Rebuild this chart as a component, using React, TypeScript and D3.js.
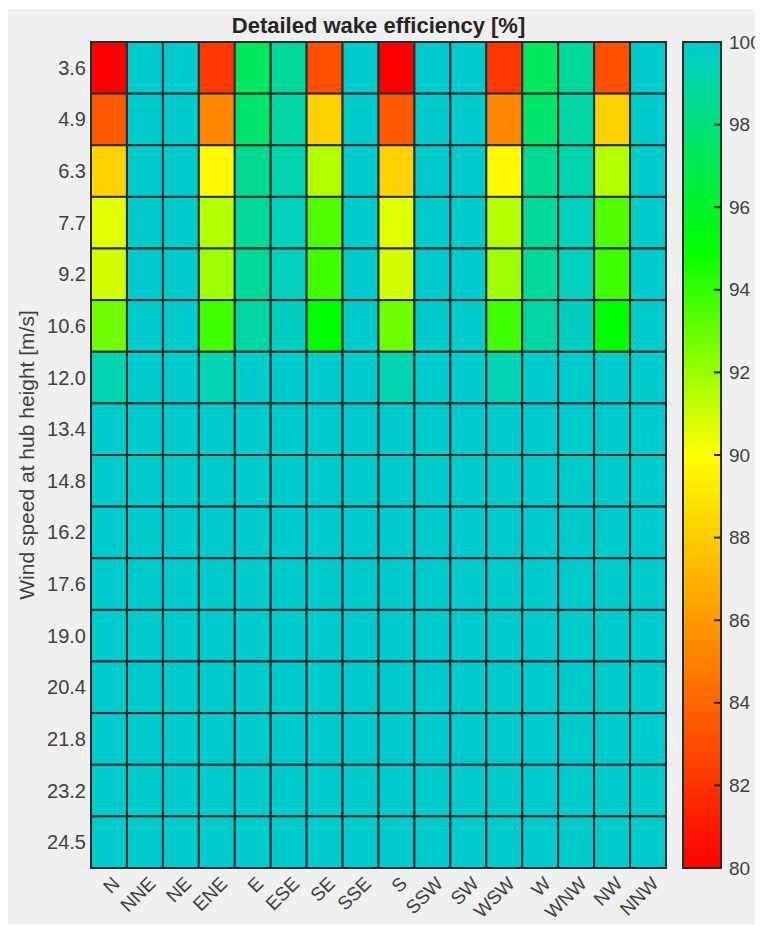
import React, { useEffect, useRef } from 'react';
import * as d3 from 'd3';

const directions = ['N', 'NNE', 'NE', 'ENE', 'E', 'ESE', 'SE', 'SSE', 'S', 'SSW', 'SW', 'WSW', 'W', 'WNW', 'NW', 'NNW'];
const speeds = ['3.6', '4.9', '6.3', '7.7', '9.2', '10.6', '12.0', '13.4', '14.8', '16.2', '17.6', '19.0', '20.4', '21.8', '23.2', '24.5'];
// wake efficiency [%], one row per wind speed, columns follow directions
const efficiency = [
  [80.0, 100, 100, 82.2, 97.3, 98.8, 83.1, 100, 80.0, 100, 100, 82.2, 97.3, 98.8, 83.1, 100],
  [83.5, 100, 100, 85.3, 97.6, 99.0, 88.2, 100, 83.5, 100, 100, 85.3, 97.6, 99.0, 88.2, 100],
  [88.2, 100, 100, 89.8, 98.5, 99.3, 91.5, 100, 88.2, 100, 100, 89.8, 98.5, 99.3, 91.5, 100],
  [90.6, 100, 100, 91.5, 98.7, 99.6, 93.4, 100, 90.6, 100, 100, 91.5, 98.7, 99.6, 93.4, 100],
  [90.9, 100, 100, 91.9, 98.7, 99.6, 93.7, 100, 90.9, 100, 100, 91.9, 98.7, 99.6, 93.7, 100],
  [92.8, 100, 100, 93.7, 99.0, 99.7, 95.0, 100, 92.8, 100, 100, 93.7, 99.0, 99.7, 95.0, 100],
  [99.3, 100, 100, 99.4, 100, 100, 100, 100, 99.3, 100, 100, 99.4, 100, 100, 100, 100],
  [100, 100, 100, 100, 100, 100, 100, 100, 100, 100, 100, 100, 100, 100, 100, 100],
  [100, 100, 100, 100, 100, 100, 100, 100, 100, 100, 100, 100, 100, 100, 100, 100],
  [100, 100, 100, 100, 100, 100, 100, 100, 100, 100, 100, 100, 100, 100, 100, 100],
  [100, 100, 100, 100, 100, 100, 100, 100, 100, 100, 100, 100, 100, 100, 100, 100],
  [100, 100, 100, 100, 100, 100, 100, 100, 100, 100, 100, 100, 100, 100, 100, 100],
  [100, 100, 100, 100, 100, 100, 100, 100, 100, 100, 100, 100, 100, 100, 100, 100],
  [100, 100, 100, 100, 100, 100, 100, 100, 100, 100, 100, 100, 100, 100, 100, 100],
  [100, 100, 100, 100, 100, 100, 100, 100, 100, 100, 100, 100, 100, 100, 100, 100],
  [100, 100, 100, 100, 100, 100, 100, 100, 100, 100, 100, 100, 100, 100, 100, 100],
];
const colorStops = [80, 90, 95, 100];
const colorValues = ['#ff0000', '#ffff00', '#00ff00', '#00cccc'];
const cbarTicks = [80, 82, 84, 86, 88, 90, 92, 94, 96, 98, 100];

const W = 755;
const H = 916;
const FONT = '"Liberation Sans", Arial, sans-serif';

export default function App() {
  const ref = useRef<SVGSVGElement>(null);

  useEffect(() => {
    const svg = d3.select(ref.current);
    svg.selectAll('*').remove();

    const plot = { left: 83, right: 658, top: 34, bottom: 860 };
    const cbar = { left: 675, right: 713 };

    const color = d3.scaleLinear<string>().domain(colorStops).range(colorValues).clamp(true);
    const x = d3.scaleBand().domain(directions).range([plot.left, plot.right]);
    const y = d3.scaleBand().domain(speeds).range([plot.top, plot.bottom]);
    const yc = d3.scaleLinear().domain([80, 100]).range([plot.bottom, plot.top]);

    // panel background
    svg.append('rect')
      .attr('x', 0).attr('y', 1)
      .attr('width', W).attr('height', H - 1)
      .attr('fill', '#f0f0f0');

    // title
    svg.append('text')
      .attr('x', (plot.left + plot.right) / 2)
      .attr('y', 25)
      .attr('text-anchor', 'middle')
      .attr('font-family', FONT)
      .attr('font-size', 22)
      .attr('font-weight', 'bold')
      .attr('fill', '#262626')
      .text('Detailed wake efficiency [%]');

    // cells
    const cells = efficiency.flatMap((row, i) => row.map((v, j) => ({ s: speeds[i], d: directions[j], v })));
    svg.append('g')
      .selectAll('rect')
      .data(cells)
      .enter()
      .append('rect')
      .attr('x', d => x(d.d)!)
      .attr('y', d => y(d.s)!)
      .attr('width', x.bandwidth())
      .attr('height', y.bandwidth())
      .attr('fill', d => color(d.v))
      .attr('stroke', '#2b2b2b')
      .attr('stroke-width', 2);

    // y tick labels
    svg.append('g')
      .selectAll('text')
      .data(speeds)
      .enter()
      .append('text')
      .attr('x', plot.left - 5)
      .attr('y', d => y(d)! + y.bandwidth() / 2)
      .attr('dy', '0.35em')
      .attr('text-anchor', 'end')
      .attr('font-family', FONT)
      .attr('font-size', 20)
      .attr('fill', '#404040')
      .text(d => d);

    // y axis title
    svg.append('text')
      .attr('transform', `translate(19,${(plot.top + plot.bottom) / 2}) rotate(-90)`)
      .attr('dy', '0.35em')
      .attr('text-anchor', 'middle')
      .attr('font-family', FONT)
      .attr('font-size', 21)
      .attr('fill', '#404040')
      .text('Wind speed at hub height [m/s]');

    // x tick labels, rotated
    svg.append('g')
      .selectAll('text')
      .data(directions)
      .enter()
      .append('text')
      .attr('transform', d => `translate(${x(d)! + x.bandwidth() / 2 + 7},${plot.bottom + 12}) rotate(-45)`)
      .attr('dy', '0.35em')
      .attr('text-anchor', 'end')
      .attr('font-family', FONT)
      .attr('font-size', 19)
      .attr('fill', '#404040')
      .text(d => d);

    // colorbar gradient
    const grad = svg.append('defs')
      .append('linearGradient')
      .attr('id', 'cbar-grad')
      .attr('x1', '0%').attr('y1', '100%')
      .attr('x2', '0%').attr('y2', '0%');
    colorStops.forEach((s, i) => {
      grad.append('stop')
        .attr('offset', `${((s - 80) / 20) * 100}%`)
        .attr('stop-color', colorValues[i]);
    });
    svg.append('rect')
      .attr('x', cbar.left).attr('y', plot.top)
      .attr('width', cbar.right - cbar.left)
      .attr('height', plot.bottom - plot.top)
      .attr('fill', 'url(#cbar-grad)')
      .attr('stroke', '#2b2b2b')
      .attr('stroke-width', 2);

    const cg = svg.append('g');
    cg.selectAll('line')
      .data(cbarTicks.filter(t => t > 80 && t < 100))
      .enter()
      .append('line')
      .attr('x1', cbar.right - 7).attr('x2', cbar.right)
      .attr('y1', d => yc(d)).attr('y2', d => yc(d))
      .attr('stroke', '#262626')
      .attr('stroke-width', 2);
    cg.selectAll('text')
      .data(cbarTicks)
      .enter()
      .append('text')
      .attr('x', cbar.right + 8)
      .attr('y', d => yc(d))
      .attr('dy', '0.35em')
      .attr('font-family', FONT)
      .attr('font-size', 19)
      .attr('fill', '#404040')
      .text(d => d);
  }, []);

  return (
    <div>
      <svg ref={ref} width={W} height={H} style={{ display: 'block' }} />
    </div>
  );
}
